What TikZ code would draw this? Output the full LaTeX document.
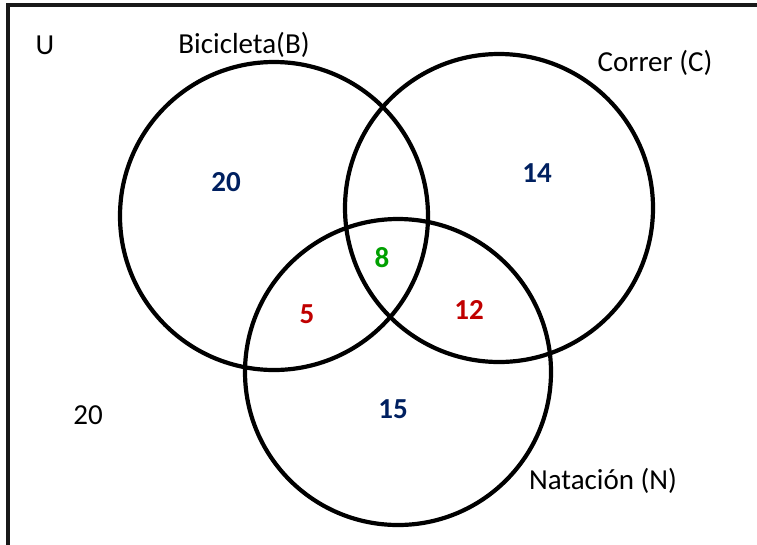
\documentclass[tikz,border=0pt]{standalone}
\usepackage{fontspec}
\setmainfont{Carlito}
\definecolor{numblue}{HTML}{002060}
\definecolor{numred}{HTML}{C00000}
\definecolor{numgreen}{HTML}{00A000}
\begin{document}
\begin{tikzpicture}[x=1pt,y=-1pt,
  setcircle/.style={draw=black,line width=4.2pt},
  lbl/.style={font=\fontsize{29}{34}\selectfont,inner sep=0pt},
  num/.style={font=\fontsize{29}{34}\selectfont\bfseries,inner sep=0pt}]
\useasboundingbox (0,0) rectangle (757,544);
\draw[line width=3.2pt,draw=black!90] (8,550) -- (8,5) -- (765,5);
\node[setcircle,circle,minimum size=308pt] (B) at (274,216) {};
\node[setcircle,circle,minimum size=308pt] (C) at (499,208) {};
\node[setcircle,circle,minimum size=306pt] (N) at (398,372) {};
\node[lbl] (U) at (45,45) {U};
\node[lbl] (lB) at (244,45) {Bicicleta(B)};
\node[lbl] (lC) at (655,63) {Correr (C)};
\node[lbl] (lN) at (603,481) {Natación (N)};
\node[lbl] (out) at (88,415) {20};
\node[num,text=numblue] (nB) at (226,182) {20};
\node[num,text=numblue] (nC) at (537,173) {14};
\node[num,text=numgreen] (nBCN) at (382,258) {8};
\node[num,text=numred] (nBN) at (307,314) {5};
\node[num,text=numred] (nCN) at (469,310) {12};
\node[num,text=numblue] (nN) at (393,409) {15};
\end{tikzpicture}
\end{document}
